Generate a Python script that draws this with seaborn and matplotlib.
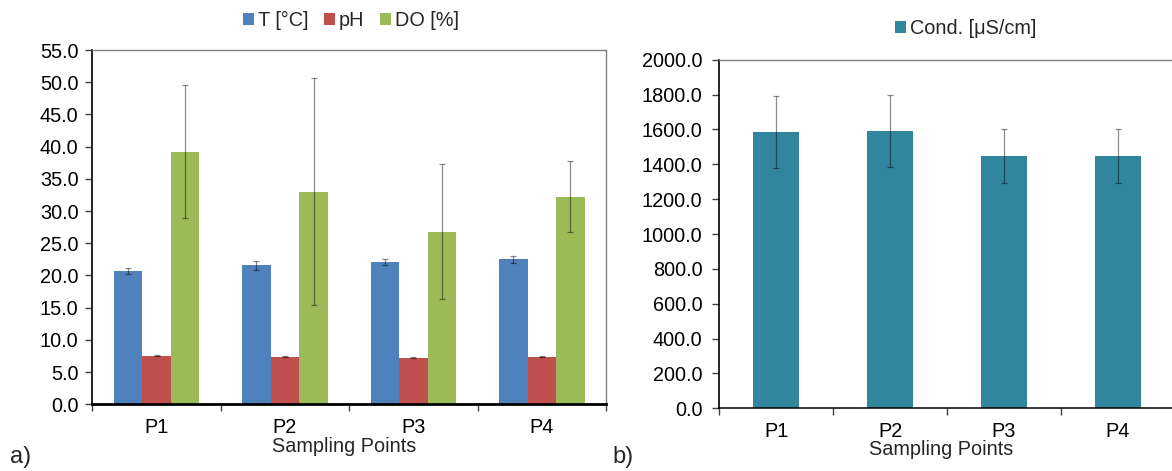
import numpy as np
import pandas as pd
import matplotlib
matplotlib.use("Agg")
import matplotlib.pyplot as plt
from matplotlib.patches import Patch
import seaborn as sns

# ---------------- data ----------------
points = ["P1", "P2", "P3", "P4"]
params = ["T [°C]", "pH", "DO [%]"]
temp_vals = [20.7, 21.6, 22.1, 22.5]
temp_err = [0.4, 0.7, 0.5, 0.5]
ph_vals = [7.55, 7.4, 7.25, 7.4]
ph_err = [0.1, 0.12, 0.12, 0.12]
do_vals = [39.2, 33.0, 26.8, 32.2]
do_err = [10.3, 17.6, 10.5, 5.5]
cond_label = "Cond. [μS/cm]"
cond_vals = [1585, 1591, 1447, 1447]
cond_err = [208, 207, 155, 157]
left_yticks = np.arange(0, 55.1, 5.0)
right_yticks = np.arange(0, 2000.1, 200.0)
xlabel = "Sampling Points"

colors = ["#4F81BD", "#C0504D", "#9BBB59"]
teal = "#31859C"
FS = 14.3

sns.set_style("white")
plt.rcParams["font.family"] = ["Liberation Sans", "DejaVu Sans"]
plt.rcParams["font.size"] = FS

df = pd.DataFrame({
    "Point": points * 3,
    "Param": [params[0]] * 4 + [params[1]] * 4 + [params[2]] * 4,
    "Value": temp_vals + ph_vals + do_vals,
})
errs = [temp_err, ph_err, do_err]

fig = plt.figure(figsize=(11.72, 4.71), dpi=100)
ax1 = fig.add_axes([0.0788, 0.1416, 0.4383, 0.7522])
ax2 = fig.add_axes([0.6137, 0.1331, 0.3888, 0.7401])

err_kw = dict(fmt="none", ecolor=(0, 0, 0, 0.45), elinewidth=0.9, capsize=2.2, capthick=0.9)

# ---------------- left chart ----------------
sns.barplot(data=df, x="Point", y="Value", hue="Param", order=points, hue_order=params,
            palette=colors, width=0.667, gap=0, saturation=1, errorbar=None,
            legend=False, linewidth=0, edgecolor="none", ax=ax1)
for cont, e in zip(ax1.containers, errs):
    xs = [b.get_x() + b.get_width() / 2 for b in cont]
    ys = [b.get_height() for b in cont]
    ax1.errorbar(xs, ys, yerr=e, **err_kw)

ax1.set_ylim(0, 55)
ax1.set_yticks(left_yticks)
ax1.set_yticklabels([f"{v:.1f}" for v in left_yticks])

# ---------------- right chart ----------------
sns.barplot(x=points, y=cond_vals, order=points, color=teal, width=0.40,
            saturation=1, errorbar=None, linewidth=0, edgecolor="none", ax=ax2)
xs = [b.get_x() + b.get_width() / 2 for b in ax2.containers[0]]
ys = [b.get_height() for b in ax2.containers[0]]
ax2.errorbar(xs, ys, yerr=cond_err, **err_kw)
ax2.set_ylim(0, 2000)
ax2.set_yticks(right_yticks)
ax2.set_yticklabels([f"{v:.1f}" for v in right_yticks])

# ---------------- common styling ----------------
for ax, bottom_lw, ypad in [(ax1, 2.0, 5.0), (ax2, 1.1, 7.0)]:
    ax.set_xlim(-0.5, 3.5)
    ax.set_xticks(range(len(points)))
    ax.set_xticklabels(points)
    ax.set_xticks(np.arange(-0.5, 3.6, 1.0), minor=True)
    ax.tick_params(axis="x", which="major", length=0, pad=10, labelsize=FS, colors="black")
    ax.tick_params(axis="x", which="minor", length=5, width=1, color="#404040", direction="out", bottom=True)
    ax.tick_params(axis="y", which="major", length=5, width=1, color="#404040", direction="out",
                   left=True, pad=ypad, labelsize=FS, labelcolor="black")
    ax.set_ylabel("")
    ax.set_xlabel(xlabel, fontsize=FS)
    ax.spines["left"].set_color("black")
    ax.spines["left"].set_linewidth(1.2)
    ax.spines["bottom"].set_color("black")
    ax.spines["bottom"].set_linewidth(bottom_lw)
    ax.spines["top"].set_color("#808080")
    ax.spines["top"].set_linewidth(1.0)
    ax.spines["right"].set_color("#808080")
    ax.spines["right"].set_linewidth(1.0)
    ax.grid(False)

ax2.spines["right"].set_visible(False)
ax1.xaxis.set_label_coords(0.49, -0.093)
ax2.xaxis.set_label_coords(0.487, -0.0915)

# legends
h1 = [Patch(facecolor=c, edgecolor="none", label=p) for c, p in zip(colors, params)]
ax1.legend(handles=h1, loc="center", bbox_to_anchor=(0.2995, 0.9575), bbox_transform=fig.transFigure,
           ncol=3, frameon=False, handlelength=0.55, handleheight=0.55, handletextpad=0.2,
           columnspacing=0.8, fontsize=FS, borderaxespad=0, borderpad=0)
h2 = [Patch(facecolor=teal, edgecolor="none", label=cond_label)]
ax2.legend(handles=h2, loc="center", bbox_to_anchor=(0.824, 0.9395), bbox_transform=fig.transFigure,
           frameon=False, handlelength=0.55, handleheight=0.55, handletextpad=0.25,
           fontsize=FS, borderaxespad=0, borderpad=0)

fig.text(0.0085, 0.0297, "a)", fontsize=17, ha="left", va="center")
fig.text(0.5228, 0.0297, "b)", fontsize=17, ha="left", va="center")

fig.savefig("out.png", dpi=100, facecolor="white")
